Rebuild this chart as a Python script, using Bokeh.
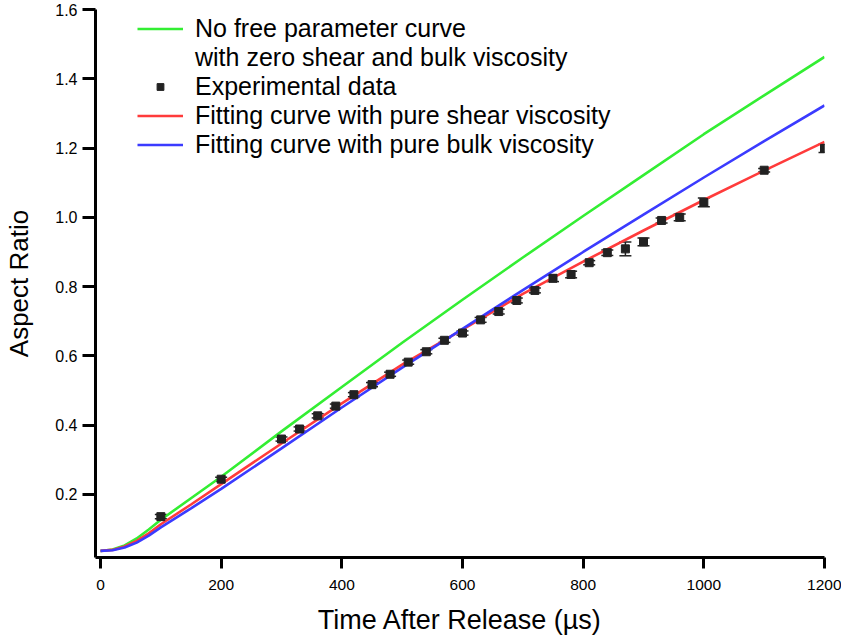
from bokeh.plotting import figure
from bokeh.models import (Legend, LegendItem, ColumnDataSource, Whisker, TeeHead,
                          FixedTicker, Range1d, PrintfTickFormatter)
from bokeh.embed import file_html
from bokeh.resources import INLINE

# ---------------- data ----------------
x_ticks = [0, 200, 400, 600, 800, 1000, 1200]
y_ticks = [0.2, 0.4, 0.6, 0.8, 1.0, 1.2, 1.4, 1.6]

exp_time = [100, 200, 300, 330, 360, 390, 420, 450, 480, 510, 540, 570, 600, 630,
            660, 690, 720, 750, 780, 810, 840, 870, 900, 930, 960, 1000, 1100, 1200]
exp_ratio = [0.136, 0.244, 0.360, 0.389, 0.427, 0.455, 0.488, 0.517, 0.547, 0.582,
             0.612, 0.645, 0.666, 0.704, 0.728, 0.760, 0.789, 0.824, 0.835, 0.869,
             0.898, 0.909, 0.929, 0.991, 1.000, 1.043, 1.136, 1.199]
exp_err = [0.006, 0.006, 0.006, 0.006, 0.006, 0.006, 0.006, 0.006, 0.006, 0.006,
           0.006, 0.006, 0.006, 0.007, 0.007, 0.007, 0.007, 0.0095, 0.0095, 0.006,
           0.008, 0.020, 0.011, 0.007, 0.0095, 0.0125, 0.005, 0.012]

curve_time = [0, 20, 40, 60, 80, 100, 150, 200, 300, 400, 500, 600, 700, 800, 900,
              1000, 1100, 1200]
no_free_param = [0.037, 0.041, 0.053, 0.073, 0.099, 0.127, 0.189, 0.251, 0.382, 0.510,
                 0.638, 0.762, 0.884, 1.004, 1.122, 1.240, 1.352, 1.463]
pure_shear = [0.037, 0.040, 0.050, 0.066, 0.088, 0.114, 0.171, 0.230, 0.347, 0.463,
              0.575, 0.676, 0.779, 0.872, 0.962, 1.050, 1.135, 1.218]
pure_bulk = [0.037, 0.039, 0.047, 0.061, 0.081, 0.105, 0.160, 0.216, 0.333, 0.451,
             0.566, 0.678, 0.790, 0.900, 1.008, 1.115, 1.220, 1.323]

labels = ["No free parameter curve",
          "with zero shear and bulk viscosity",
          "Experimental data",
          "Fitting curve with pure shear viscosity",
          "Fitting curve with pure bulk viscosity"]

FONT = "Liberation Sans"

# ---------------- figure ----------------
p = figure(width=841, height=641, output_backend="svg", toolbar_location=None,
           x_range=Range1d(-8.3, 1200), y_range=Range1d(0.018, 1.6),
           min_border_left=95, min_border_right=17, min_border_top=9,
           min_border_bottom=84)
p.outline_line_color = None
p.grid.visible = False
p.background_fill_color = "white"

g = p.line(curve_time, no_free_param, line_color="#33ee33", line_width=2.6)
dummy = p.line([], [], line_alpha=0)
r = p.line(curve_time, pure_shear, line_color="#ff3b3b", line_width=2.6)
b = p.line(curve_time, pure_bulk, line_color="#3b3bff", line_width=2.6)

src = ColumnDataSource(dict(
    x=exp_time, y=exp_ratio,
    upper=[v + e for v, e in zip(exp_ratio, exp_err)],
    lower=[v - e for v, e in zip(exp_ratio, exp_err)]))
w = Whisker(source=src, base="x", upper="upper", lower="lower", dimension="height",
            line_color="#222222", line_width=1.5,
            upper_head=TeeHead(size=12, line_width=1.5, line_color="#222222"),
            lower_head=TeeHead(size=12, line_width=1.5, line_color="#222222"))
p.add_layout(w)
pts = p.scatter("x", "y", source=src, marker="square", size=8, color="#222222")

# ---------------- axes ----------------
for ax in (p.xaxis[0], p.yaxis[0]):
    ax.axis_line_width = 3
    ax.axis_line_color = "black"
    ax.major_tick_line_width = 3
    ax.major_tick_line_color = "black"
    ax.major_tick_in = 0
    ax.minor_tick_line_color = None
    ax.major_label_text_font = FONT
    ax.major_label_text_color = "black"
    ax.axis_label_text_font = FONT
    ax.axis_label_text_font_style = "normal"
    ax.axis_label_text_color = "black"
    ax.axis_label_text_font_size = "26px"

p.xaxis.ticker = FixedTicker(ticks=x_ticks)
p.yaxis.ticker = FixedTicker(ticks=y_ticks)
p.yaxis.formatter = PrintfTickFormatter(format="%.1f")
p.xaxis.major_tick_out = 11
p.yaxis.major_tick_out = 13
p.xaxis.major_label_text_font_size = "15.5px"
p.yaxis.major_label_text_font_size = "16px"
p.xaxis.major_label_standoff = 11
p.yaxis.major_label_standoff = 5
p.xaxis.axis_label = "Time After Release (\u00b5s)"
p.yaxis.axis_label = "Aspect Ratio"
p.xaxis.axis_label_text_font_size = "27px"
p.xaxis.axis_label_standoff = 12
p.yaxis.axis_label_standoff = 18

# ---------------- legend ----------------
legend = Legend(items=[
    LegendItem(label=labels[0], renderers=[g]),
    LegendItem(label=labels[1], renderers=[dummy]),
    LegendItem(label=labels[2], renderers=[pts]),
    LegendItem(label=labels[3], renderers=[r]),
    LegendItem(label=labels[4], renderers=[b]),
], location=(42, 398))
legend.label_text_font = FONT
legend.label_text_font_size = "25px"
legend.label_text_color = "black"
legend.glyph_width = 46
legend.glyph_height = 17
legend.label_height = 28
legend.label_standoff = 12
legend.spacing = 0
legend.padding = 0
legend.margin = 0
legend.border_line_alpha = 0
legend.background_fill_alpha = 0
p.add_layout(legend)

open("out.html", "w").write(file_html(p, INLINE))
